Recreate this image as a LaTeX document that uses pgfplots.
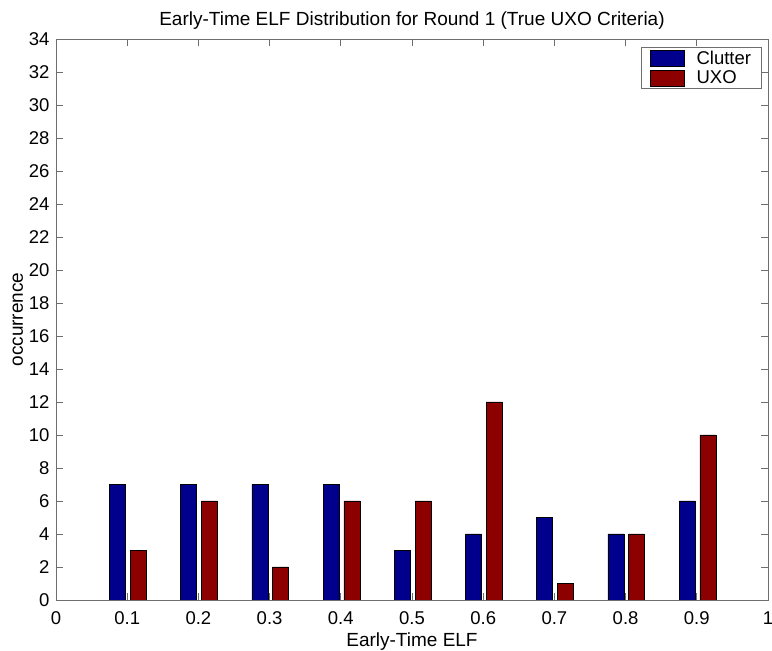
\documentclass[border=0pt]{standalone}
\usepackage{pgfplots}
\pgfplotsset{compat=1.18}
\usepackage{fontspec}
\setmainfont{Liberation Sans}
\definecolor{cblue}{RGB}{0,0,140}
\definecolor{cred}{RGB}{140,0,0}
\definecolor{axgray}{RGB}{110,110,110}
\begin{document}
\begin{tikzpicture}[x=1pt,y=1pt]
\useasboundingbox (-56,-51) rectangle (716,600);
\begin{axis}[
  at={(0,0)}, anchor=south west,
  scale only axis, width=712pt, height=561pt,
  xmin=0, xmax=1, ymin=0, ymax=34,
  ybar, bar width=0.0225,
  xtick={0,0.1,0.2,0.3,0.4,0.5,0.6,0.7,0.8,0.9,1},
  xticklabels={0,0.1,0.2,0.3,0.4,0.5,0.6,0.7,0.8,0.9,1},
  ytick={0,2,4,6,8,10,12,14,16,18,20,22,24,26,28,30,32,34},
  yticklabels={0,2,4,6,8,10,12,14,16,18,20,22,24,26,28,30,32,34},
  tick align=inside, major tick length=7pt,
  axis line style={axgray, line width=0.8pt},
  every tick/.style={axgray, line width=0.8pt},
  tick label style={font=\fontsize{18.5}{21}\selectfont, text=black},
  xticklabel style={anchor=center, yshift=-18pt},
  yticklabel style={anchor=east, xshift=-3pt},
  label style={font=\fontsize{19}{22}\selectfont},
  xlabel={Early-Time ELF},
  xlabel style={at={(axis description cs:0.5,-0.0677)}, anchor=center, yshift=-4pt},
  ylabel={occurrence},
  ylabel style={at={(axis description cs:-0.0534,0.5)}, anchor=center, rotate=0},
  title={Early-Time ELF Distribution for Round 1 (True UXO Criteria)},
  title style={font=\fontsize{19}{22}\selectfont, at={(axis description cs:0.5,1.0374)}, anchor=center, yshift=-9pt},
  legend style={at={(axis description cs:0.9915,0.986)}, anchor=north east,
    font=\fontsize{18.5}{21}\selectfont, draw=axgray, line width=0.8pt,
    inner xsep=8pt, inner ysep=1pt, row sep=0pt,
    nodes={inner sep=2.5pt}},
  legend image code/.code={\draw[#1, line width=0.5pt] (0pt,-8pt) rectangle (34pt,8pt);
    \path[draw=none, fill=none] (0pt,0pt) -- (44pt,0pt);},
  legend cell align=left,
]
\addplot[fill=cblue, draw=black, line width=0.5pt, bar shift=-0.0137] coordinates {
 (0.1,7) (0.2,7) (0.3,7) (0.4,7) (0.5,3) (0.6,4) (0.7,5) (0.8,4) (0.9,6)};
\addplot[fill=cred, draw=black, line width=0.5pt, bar shift=0.0155] coordinates {
 (0.1,3) (0.2,6) (0.3,2) (0.4,6) (0.5,6) (0.6,12) (0.7,1) (0.8,4) (0.9,10)};
\legend{Clutter, UXO}
\end{axis}
\end{tikzpicture}
\end{document}
